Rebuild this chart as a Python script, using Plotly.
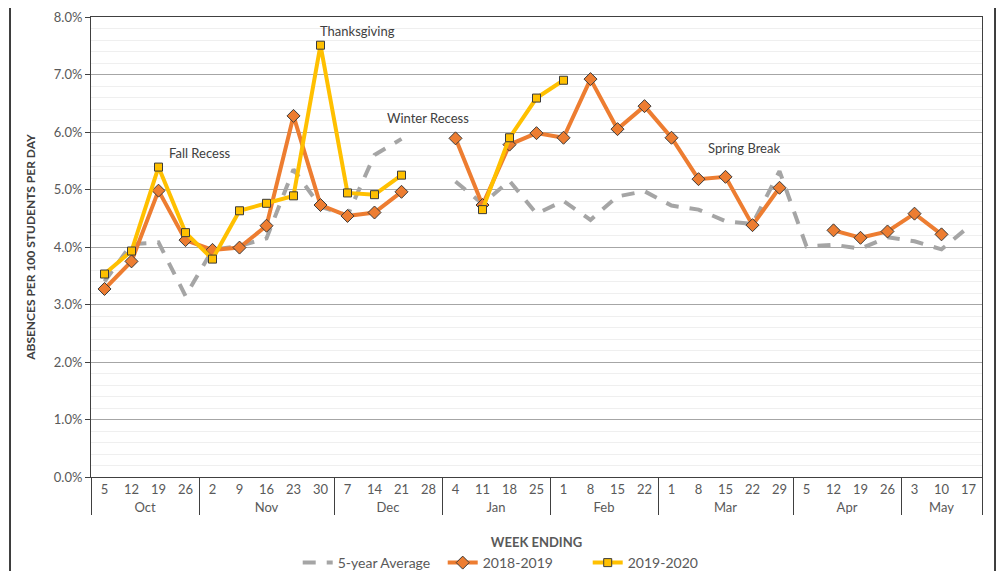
import plotly.graph_objects as go

months = ["Oct"]*4 + ["Nov"]*5 + ["Dec"]*4 + ["Jan"]*4 + ["Feb"]*4 + ["Mar"]*5 + ["Apr"]*4 + ["May"]*3
days = ["5","12","19","26","2","9","16","23","30","7","14","21","28","4","11","18","25",
        "1","8","15","22","1","8","15","22","29","5","12","19","26","3","10","17"]

avg5 = [3.40,4.05,4.08,3.15,3.95,4.02,4.15,5.35,4.70,4.55,5.60,5.88,None,5.14,4.75,5.15,4.58,
        4.80,4.47,4.88,4.97,4.72,4.65,4.45,4.40,5.32,4.01,4.04,3.97,4.17,4.10,3.96,4.35]
y1819 = [3.27,3.75,4.98,4.12,3.95,3.99,4.37,6.28,4.73,4.54,4.60,4.96,None,5.89,4.73,5.78,5.98,
         5.90,6.92,6.05,6.45,5.90,5.18,5.22,4.38,5.03,None,4.29,4.16,4.27,4.58,4.22,None]
y1920 = [3.53,3.93,5.39,4.25,3.79,4.63,4.76,4.89,7.51,4.94,4.91,5.25,None,None,4.65,5.90,6.59,
         6.90] + [None]*15

notes = ["Fall Recess", "Thanksgiving", "Winter Recess", "Spring Break"]
note_x = [0.0853, 0.2548, 0.378, 0.7755]
note_y = [5.64, 7.76, 6.24, 5.72]

FONT = "Lato"
x = [months, days]

fig = go.Figure()
fig.add_trace(go.Scatter(x=x, y=avg5, name="5-year Average", mode="lines",
                         line=dict(color="#A5A5A5", width=4, dash="13px,11px")))
fig.add_trace(go.Scatter(x=x, y=y1819, name="2018-2019", mode="lines+markers",
                         line=dict(color="#ED7D31", width=4),
                         marker=dict(symbol="diamond", size=10, color="#ED7D31",
                                     line=dict(color="#3a3a3a", width=1))))
fig.add_trace(go.Scatter(x=x, y=y1920, name="2019-2020", mode="lines+markers",
                         line=dict(color="#FFC000", width=4),
                         marker=dict(symbol="square", size=8, color="#FFC000",
                                     line=dict(color="#3a3a3a", width=1))))

for t, xx, yy in zip(notes, note_x, note_y):
    fig.add_annotation(text=t, x=xx, y=yy, xref="paper", yref="y", showarrow=False,
                       font=dict(family=FONT, size=13, color="#404040"))

fig.add_shape(type="rect", xref="paper", yref="paper",
              x0=-0.0909, x1=1.0146, y0=-0.25, y1=1.024,
              line=dict(color="#000000", width=1.5), layer="below")

fig.update_layout(
    width=1005, height=571,
    margin=dict(l=83, r=31, t=9, b=102, autoexpand=False),
    paper_bgcolor="white", plot_bgcolor="white",
    font=dict(family=FONT, size=13, color="#595959"),
    showlegend=True,
    legend=dict(orientation="h", x=0.232, xanchor="left", y=-0.187, yanchor="middle",
                entrywidth=100, entrywidthmode="pixels",
                font=dict(family=FONT, size=14, color="#595959"), traceorder="normal"),
    xaxis=dict(type="multicategory", range=[-0.5, 32.5], automargin=False,
               showdividers=True, dividercolor="#404040", dividerwidth=1,
               showline=True, linecolor="#404040", linewidth=1, mirror=True,
               showgrid=False, ticks="outside", ticklen=10, tickcolor="rgba(0,0,0,0)",
               tickfont=dict(family=FONT, size=13, color="#595959"),
               title=dict(text="<b>WEEK ENDING</b>", standoff=24,
                          font=dict(family=FONT, size=13, color="#595959"))),
    yaxis=dict(range=[0, 8], dtick=1, tickformat=".1f", ticksuffix="%", automargin=False,
               showline=True, linecolor="#404040", linewidth=1, mirror=True,
               ticks="outside", ticklen=5, tickcolor="#404040",
               showgrid=True, gridcolor="#A6A6A6", gridwidth=1, zeroline=False,
               minor=dict(dtick=0.2, showgrid=True, gridcolor="#EFEFEF", gridwidth=1),
               tickfont=dict(family=FONT, size=13, color="#595959"),
               title=dict(text="<b>ABSENCES PER 100 STUDENTS PER DAY</b>",
                          font=dict(family=FONT, size=12, color="#404040"))),
)

fig.write_html("out.html")
